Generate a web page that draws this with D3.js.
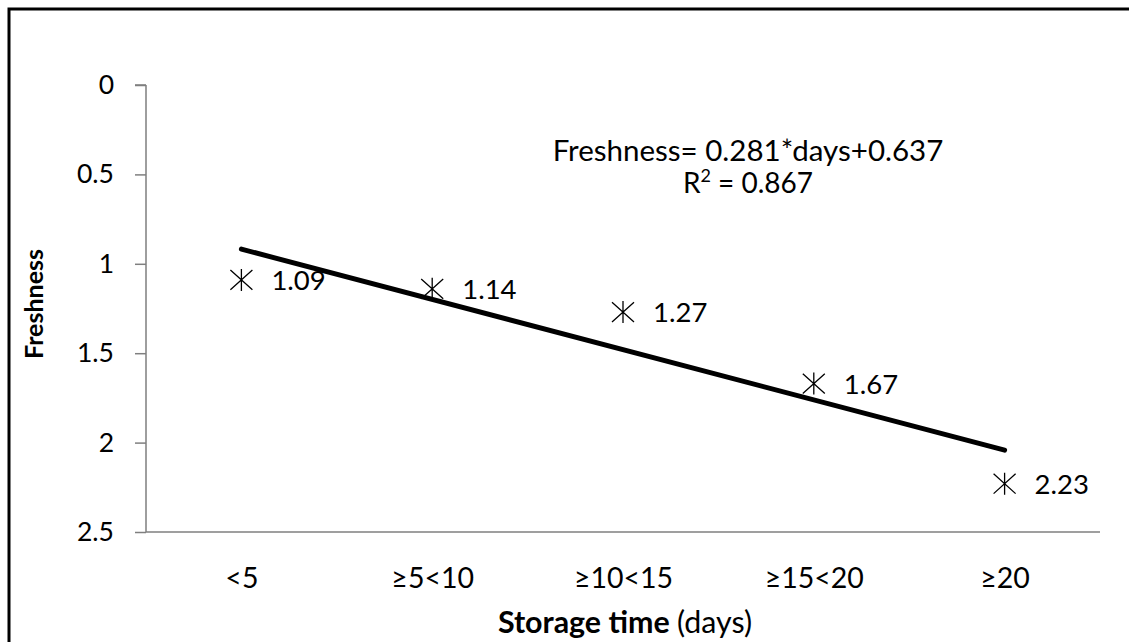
<!DOCTYPE html>
<html>
<head>
<meta charset="utf-8">
<script src="https://cdn.jsdelivr.net/npm/d3@7"></script>
<style>
html,body{margin:0;padding:0;background:#fff;}
svg{display:block;}
text{font-family:Lato,"Open Sans",sans-serif;fill:#000;}
</style>
</head>
<body>
<svg id="chart" width="1129" height="642"></svg>
<script>
// Data
const categories = ["<5", "≥5<10", "≥10<15", "≥15<20", "≥20"];
const freshness = [1.09, 1.14, 1.27, 1.67, 2.23];
const yTicks = [0, 0.5, 1, 1.5, 2, 2.5];
const trendSlope = 0.281;
const trendIntercept = 0.637;
const equationText = "Freshness= 0.281*days+0.637";
const r2Value = "0.867";

const svg = d3.select("#chart");
const W = 1129, H = 642;
const margin = {left: 146, right: 29, top: 85, bottom: 110};

svg.append("rect").attr("x", 0).attr("y", 0).attr("width", W).attr("height", H).attr("fill", "#fff");
// outer frame (extends past right/bottom edge)
svg.append("rect").attr("x", 9).attr("y", 9).attr("width", W + 20).attr("height", H + 20)
  .attr("fill", "none").attr("stroke", "#000").attr("stroke-width", 3);

const x = d3.scalePoint().domain(categories).range([margin.left, W - margin.right]).padding(0.5);
const y = d3.scaleLinear().domain([0, 2.5]).range([margin.top, H - margin.bottom]);

// Y axis
const yAxis = d3.axisLeft(y).tickValues(yTicks).tickSize(11).tickPadding(21)
  .tickFormat(d => d3.format("")(d));
const gy = svg.append("g").attr("transform", `translate(${margin.left},0)`).call(yAxis);
gy.select(".domain").attr("stroke", "#7f7f7f").attr("stroke-width", 1.5).attr("d", `M0,${y(0)}H-11M0,${y(0)}V${y(2.5)}`);
gy.selectAll(".tick line").attr("stroke", "#7f7f7f").attr("stroke-width", 1.5);
gy.selectAll(".tick text").attr("font-size", 26.5).attr("font-family", "Lato").attr("fill", "#000");

// X axis
const xAxis = d3.axisBottom(x).tickSize(0).tickPadding(0);
const gx = svg.append("g").attr("transform", `translate(0,${y(2.5)})`).call(xAxis);
gx.select(".domain").attr("stroke", "#7f7f7f").attr("stroke-width", 1.5)
  .attr("d", `M${margin.left},0H${W - margin.right}`);
gx.selectAll(".tick text").attr("font-size", 28.5).attr("font-family", "Lato").attr("fill", "#000")
  .attr("dy", null).attr("y", 56);

// Trend line
const trend = categories.map((c, i) => ({c, v: trendSlope * (i + 1) + trendIntercept}));
const line = d3.line().x(d => x(d.c)).y(d => y(d.v));
svg.append("path").datum([trend[0], trend[trend.length - 1]]).attr("d", line)
  .attr("fill", "none").attr("stroke", "#000").attr("stroke-width", 5).attr("stroke-linecap", "round");

// Star markers
const s = 11;
const star = `M0,${-s}V${s}M${-s},${-s * 0.9}L${s},${s * 0.9}M${-s},${s * 0.9}L${s},${-s * 0.9}`;
const pts = svg.append("g").selectAll("g").data(categories.map((c, i) => ({c, v: freshness[i]}))).join("g")
  .attr("transform", d => `translate(${x(d.c)},${y(d.v)})`);
pts.append("path").attr("d", star).attr("stroke", "#000").attr("stroke-width", 1.3).attr("fill", "none");
pts.append("text").attr("x", 30).attr("dy", "0.36em").attr("font-size", 27.5).text(d => d3.format(".2f")(d.v));

// Equation
svg.append("text").attr("x", 748).attr("y", 161).attr("text-anchor", "middle").attr("font-size", 29.5).text(equationText);
const r2 = svg.append("text").attr("x", 748).attr("y", 193).attr("text-anchor", "middle").attr("font-size", 28);
r2.append("tspan").text("R");
r2.append("tspan").attr("font-size", 18).attr("dy", -11).text("2");
r2.append("tspan").attr("dy", 11).text(" = " + r2Value);

// Axis titles
const xt = svg.append("text").attr("x", 625).attr("y", 633).attr("text-anchor", "middle").attr("font-size", 30.4);
xt.append("tspan").attr("font-weight", "bold").text("Storage time ");
xt.append("tspan").text("(days)");
svg.append("text").attr("transform", "translate(43,304) rotate(-90)").attr("text-anchor", "middle")
  .attr("font-size", 25).attr("font-weight", "bold").text("Freshness");
</script>
</body>
</html>
